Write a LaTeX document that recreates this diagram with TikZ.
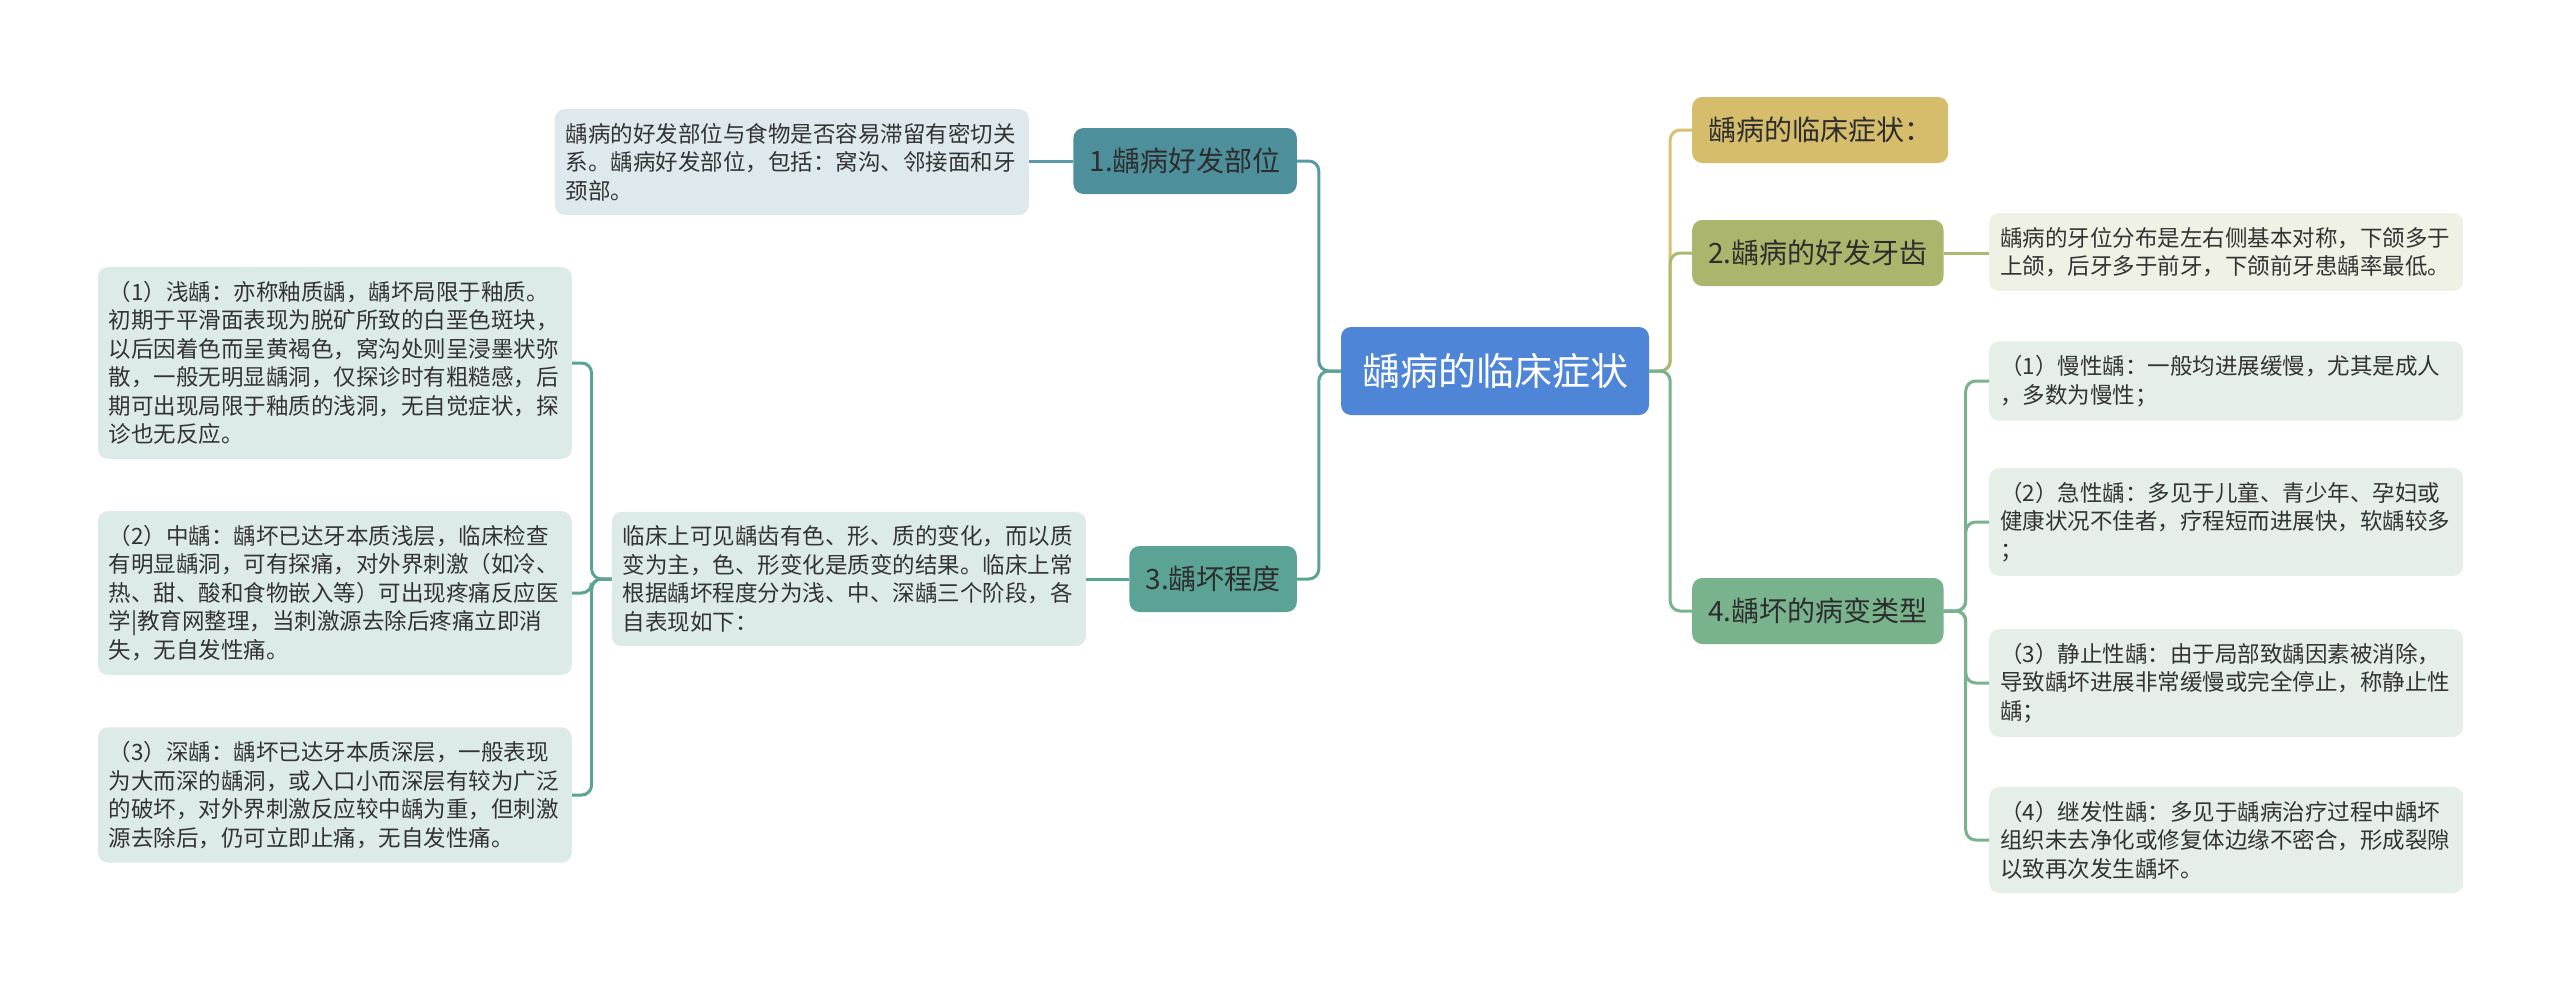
\documentclass[tikz,border=0pt]{standalone}
\usepackage{fontspec}
\setmainfont{Noto Sans CJK SC}
\usepackage{xcolor}
\usetikzlibrary{positioning}

\definecolor{rootblue}{HTML}{4E85D7}
\definecolor{sitefill}{HTML}{4E8F9C}
\definecolor{sitelink}{HTML}{5A98A6}
\definecolor{sitepale}{HTML}{DDE9ED}
\definecolor{degfill}{HTML}{5AA395}
\definecolor{degpale}{HTML}{DDEBE8}
\definecolor{titlefill}{HTML}{D6BD6B}
\definecolor{titlelink}{HTML}{D8C174}
\definecolor{teethfill}{HTML}{ABB56B}
\definecolor{teethlink}{HTML}{AEB872}
\definecolor{teethpale}{HTML}{F0F1E5}
\definecolor{typefill}{HTML}{79B38D}
\definecolor{typepale}{HTML}{E5EFE8}
\definecolor{inkdark}{HTML}{2D2D2D}
\definecolor{inkleaf}{HTML}{333333}

\begin{document}
\begin{tikzpicture}[x=1pt, y=-1pt,
    box/.style={rounded corners=10pt, inner xsep=16pt, minimum height=66pt, text=inkdark, font=\fontsize{28}{34}\selectfont},
    leaf/.style={rounded corners=10pt, text width=452pt, inner xsep=11pt, inner ysep=14pt, align=left, text=inkleaf, font=\fontsize{22.5}{28.5}\selectfont},
    link/.style={line width=3pt, rounded corners=10pt}]
    \fill[white] (0,0) rectangle (2560,993);
    \useasboundingbox (0,0) rectangle (2560,993);

    % Center
    \node[box, fill=rootblue, text=white, font=\fontsize{38}{44}\selectfont, minimum height=88pt, inner xsep=21pt] (root) at (1495,371) {龋病的临床症状};

    % Left: 1. site
    \node[box, fill=sitefill, anchor=east] (site) at (1297,161) {1.龋病好发部位};
    \node[leaf, fill=sitepale, anchor=east] (sitetxt) at (1029,162) {龋病的好发部位与食物是否容易滞留有密切关\\系。龋病好发部位，包括：窝沟、邻接面和牙\\颈部。};

    % Left: 3. degree
    \node[box, fill=degfill, anchor=east] (degree) at (1297,579) {3.龋坏程度};
    \node[leaf, fill=degpale, anchor=east] (degreetxt) at (1086,579) {临床上可见龋齿有色、形、质的变化，而以质\\变为主，色、形变化是质变的结果。临床上常\\根据龋坏程度分为浅、中、深龋三个阶段，各\\自表现如下：};
    \node[leaf, fill=degpale, anchor=east] (shallow) at (572,363) {（1）浅龋：亦称釉质龋，龋坏局限于釉质。\\初期于平滑面表现为脱矿所致的白垩色斑块，\\以后因着色而呈黄褐色，窝沟处则呈浸墨状弥\\散，一般无明显龋洞，仅探诊时有粗糙感，后\\期可出现局限于釉质的浅洞，无自觉症状，探\\诊也无反应。};
    \node[leaf, fill=degpale, anchor=east] (middle) at (572,593) {（2）中龋：龋坏已达牙本质浅层，临床检查\\有明显龋洞，可有探痛，对外界刺激（如冷、\\热、甜、酸和食物嵌入等）可出现疼痛反应医\\学|教育网整理，当刺激源去除后疼痛立即消\\失，无自发性痛。};
    \node[leaf, fill=degpale, anchor=east] (deep) at (572,795) {（3）深龋：龋坏已达牙本质深层，一般表现\\为大而深的龋洞，或入口小而深层有较为广泛\\的破坏，对外界刺激反应较中龋为重，但刺激\\源去除后，仍可立即止痛，无自发性痛。};

    % Right: title, 2. teeth
    \node[box, fill=titlefill, anchor=west] (title) at (1692,130) {龋病的临床症状：};
    \node[box, fill=teethfill, anchor=west] (teeth) at (1692,253) {2.龋病的好发牙齿};
    \node[leaf, fill=teethpale, anchor=west] (teethtxt) at (1989,252) {龋病的牙位分布是左右侧基本对称，下颌多于\\上颌，后牙多于前牙，下颌前牙患龋率最低。};

    % Right: 4. type
    \node[box, fill=typefill, anchor=west] (type) at (1692,611) {4.龋坏的病变类型};
    \node[leaf, fill=typepale, anchor=west] (chronic) at (1989,381) {（1）慢性龋：一般均进展缓慢，尤其是成人\\，多数为慢性；};
    \node[leaf, fill=typepale, anchor=west] (acute) at (1989,522) {（2）急性龋：多见于儿童、青少年、孕妇或\\健康状况不佳者，疗程短而进展快，软龋较多\\；};
    \node[leaf, fill=typepale, anchor=west] (arrested) at (1989,683) {（3）静止性龋：由于局部致龋因素被消除，\\导致龋坏进展非常缓慢或完全停止，称静止性\\龋；};
    \node[leaf, fill=typepale, anchor=west] (secondary) at (1989,840) {（4）继发性龋：多见于龋病治疗过程中龋坏\\组织未去净化或修复体边缘不密合，形成裂隙\\以致再次发生龋坏。};

    % Links
    \draw[link, draw=sitelink] (root.west) -- ++(-22,0) |- (site.east);
    \draw[link, draw=sitelink] (site.west) -- (sitetxt.east |- site.west);
    \draw[link, draw=degfill] (root.west) -- ++(-22,0) |- (degree.east);
    \draw[link, draw=degfill] (degree.west) -- (degreetxt.east |- degree.west);
    \foreach \n in {shallow, middle, deep}
        \draw[link, draw=degfill] (degreetxt.west) -- ++(-20,0) |- (\n.east);

    \draw[link, draw=titlelink] (root.east) -- ++(21,0) |- (title.west);
    \draw[link, draw=teethlink] (root.east) -- ++(21,0) |- (teeth.west);
    \draw[link, draw=teethlink] (teeth.east) -- (teethtxt.west |- teeth.east);
    \draw[link, draw=typefill] (root.east) -- ++(21,0) |- (type.west);
    \foreach \n in {chronic, acute, arrested, secondary}
        \draw[link, draw=typefill] (type.east) -- ++(22,0) |- (\n.west);
\end{tikzpicture}
\end{document}
